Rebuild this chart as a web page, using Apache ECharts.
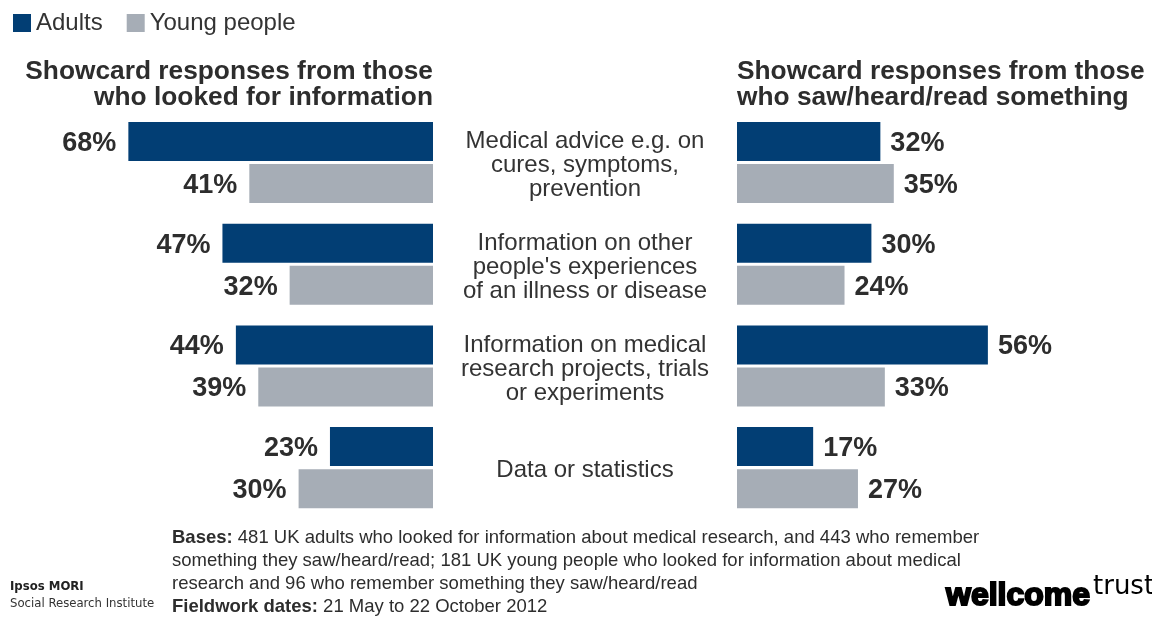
<!DOCTYPE html>
<html>
<head>
<meta charset="utf-8">
<script src="https://cdn.jsdelivr.net/npm/echarts@6/dist/echarts.min.js"></script>
<style>
html,body{margin:0;padding:0;background:#fff;}
#chart{width:1152px;height:617px;}
</style>
</head>
<body>
<div id="chart"></div>
<script>
const categories = [
  "Medical advice e.g. on\ncures, symptoms,\nprevention",
  "Information on other\npeople's experiences\nof an illness or disease",
  "Information on medical\nresearch projects, trials\nor experiments",
  "Data or statistics"
];
const seriesNames = ["Adults", "Young people"];
const adultsLooked = [68, 47, 44, 23];
const youngLooked = [41, 32, 39, 30];
const adultsSaw = [32, 30, 56, 17];
const youngSaw = [35, 24, 33, 27];
const titleLeft = "Showcard responses from those\nwho looked for information";
const titleRight = "Showcard responses from those\nwho saw/heard/read something";
const footnoteLines = [
  "{b|Bases:} 481 UK adults who looked for information about medical research, and 443 who remember",
  "something they saw/heard/read; 181 UK young people who looked for information about medical",
  "research and 96 who remember something they saw/heard/read",
  "{b|Fieldwork dates:} 21 May to 22 October 2012"
];

const NAVY = '#023e74';
const GREY = '#a6adb6';
const TXT = '#2d2d2d';
const FONT = "'Liberation Sans', Arial, sans-serif";
const CONDENSED = "'Liberation Sans Narrow', 'DejaVu Sans Condensed', sans-serif";

const chart = echarts.init(document.getElementById('chart'));

function barSeries(name, data, idx, color, pos) {
  return {
    name: name,
    type: 'bar',
    xAxisIndex: idx,
    yAxisIndex: idx,
    data: data,
    barWidth: 39,
    barGap: '8%',
    itemStyle: { color: color },
    emphasis: { disabled: true },
    label: {
      show: true,
      position: pos,
      distance: pos === 'left' ? 12 : 10,
      offset: [0, 2],
      formatter: '{c}%',
      color: TXT,
      fontFamily: FONT,
      fontWeight: 'bold',
      fontSize: 27
    }
  };
}

const option = {
  animation: false,
  textStyle: { fontFamily: FONT },
  legend: {
    data: seriesNames,
    left: 13,
    top: 11,
    padding: 0,
    itemWidth: 18,
    itemHeight: 18,
    itemGap: 24,
    icon: 'rect',
    textStyle: { fontSize: 24, color: '#333', fontFamily: FONT }
  },
  title: [
    {
      text: titleLeft,
      left: 433,
      top: 59,
      textAlign: 'right',
      padding: 0,
      textStyle: { fontSize: 26.3, lineHeight: 26, fontWeight: 'bold', color: TXT, fontFamily: FONT }
    },
    {
      text: titleRight,
      left: 737,
      top: 59,
      padding: 0,
      textStyle: { fontSize: 26.3, lineHeight: 26, fontWeight: 'bold', color: TXT, fontFamily: FONT }
    }
  ],
  grid: [
    { left: 74.6, right: 719, top: 111.7, bottom: 98.5 },
    { left: 737, right: 56.6, top: 111.7, bottom: 98.5 }
  ],
  xAxis: [
    { gridIndex: 0, type: 'value', min: 0, max: 80, inverse: true, show: false },
    { gridIndex: 1, type: 'value', min: 0, max: 80, show: false }
  ],
  yAxis: [
    { gridIndex: 0, type: 'category', data: categories, inverse: true,
      axisLine: { show: false }, axisTick: { show: false }, axisLabel: { show: false } },
    { gridIndex: 1, type: 'category', data: categories, inverse: true,
      axisLine: { show: false }, axisTick: { show: false },
      axisLabel: {
        show: true, margin: 152, align: 'center', fontSize: 24, lineHeight: 24,
        color: '#333', fontFamily: FONT,
        formatter: function (v) {
          return v.split('\n').map(function (l) { return '{f|' + l + '}'; }).join('\n');
        },
        rich: {
          f: { padding: [6, 0, 0, 0], fontSize: 24, lineHeight: 24, color: '#333', fontFamily: FONT, align: 'center' }
        }
      } }
  ],
  series: [
    barSeries(seriesNames[0], adultsLooked, 0, NAVY, 'left'),
    barSeries(seriesNames[1], youngLooked, 0, GREY, 'left'),
    barSeries(seriesNames[0], adultsSaw, 1, NAVY, 'right'),
    barSeries(seriesNames[1], youngSaw, 1, GREY, 'right')
  ],
  graphic: [
    {
      type: 'text', left: 172, top: 527,
      style: {
        text: footnoteLines.join('\n'),
        fontSize: 18.5, lineHeight: 22.7, fill: TXT, fontFamily: FONT,
        rich: { b: { fontWeight: 'bold', fontSize: 18.5, lineHeight: 22.7, fill: TXT, fontFamily: FONT } }
      }
    },
    {
      type: 'text', left: 10, top: 580,
      style: { text: 'Ipsos MORI', fontSize: 13, fontWeight: 'bold', fill: '#222', fontFamily: CONDENSED }
    },
    {
      type: 'text', left: 10, top: 597,
      style: { text: 'Social Research Institute', fontSize: 13, fill: '#333', fontFamily: CONDENSED }
    },
    {
      type: 'text', left: 945, top: 579,
      style: { text: 'wellcome', fontSize: 32, fontWeight: 'bold', fill: '#000', stroke: '#000', lineWidth: 2, fontFamily: FONT }
    },
    {
      type: 'text', left: 1093, top: 574,
      style: { text: 'trust', fontSize: 26, fill: '#000', fontFamily: "'DejaVu Sans', sans-serif" }
    }
  ]
};
chart.setOption(option);
</script>
</body>
</html>
